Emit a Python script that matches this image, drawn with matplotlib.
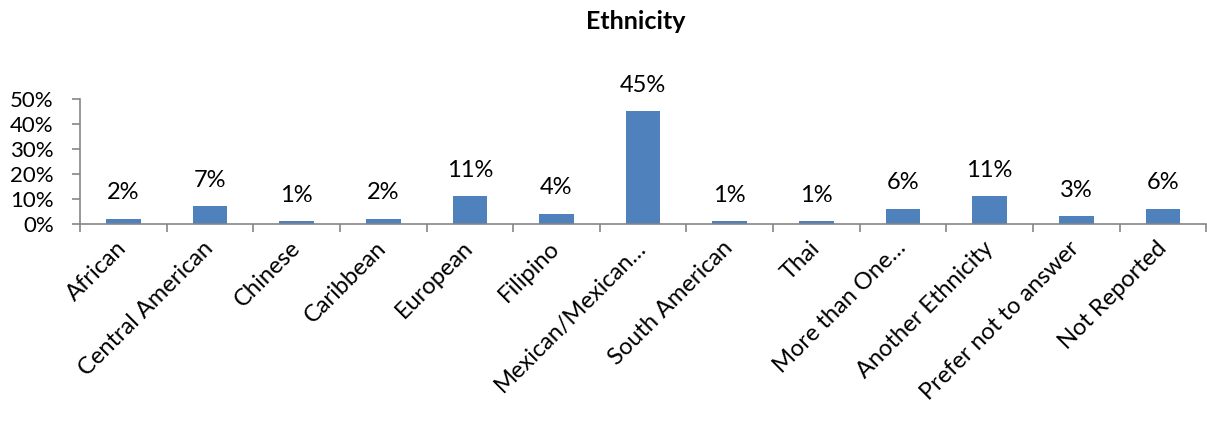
import matplotlib
matplotlib.use("Agg")
import matplotlib.pyplot as plt
import numpy as np
from matplotlib.ticker import PercentFormatter

plt.rcParams['font.family'] = ['Lato', 'DejaVu Sans']

categories = ["African", "Central American", "Chinese", "Caribbean", "European",
              "Filipino", "Mexican/Mexican…", "South American", "Thai",
              "More than One…", "Another Ethnicity", "Prefer not to answer",
              "Not Reported"]
values = [2, 7, 1, 2, 11, 4, 45, 1, 1, 6, 11, 3, 6]

bar_color = '#4F81BD'
axis_color = '#868686'

fig = plt.figure(figsize=(12.07, 4.21), dpi=100)
ax = fig.add_axes([0.0663, 0.468, 0.933, 0.297])

x = np.arange(len(categories))
ax.bar(x, values, width=0.4, color=bar_color)

# value labels above bars
for xi, v in zip(x, values):
    ax.annotate(f"{v}%", (xi, v), xytext=(0, 19), textcoords='offset points',
                ha='center', va='center', fontsize=17)

ax.set_xlim(-0.5, len(categories) - 0.5)
ax.set_ylim(0, 50)
ax.set_yticks(np.arange(0, 51, 10))
ax.yaxis.set_major_formatter(PercentFormatter(decimals=0))

ax.set_xticks(x)
ax.set_xticklabels(categories, rotation=45, ha='right', va='center',
                   rotation_mode='anchor', fontsize=17)
ax.set_xticks(np.arange(-0.5, len(categories)), minor=True)
ax.tick_params(axis='x', which='major', length=0, pad=15)
ax.tick_params(axis='x', which='minor', length=6, color=axis_color, width=1.2)
ax.tick_params(axis='y', length=6, color=axis_color, width=1.2, labelsize=16, pad=13)

for side in ['top', 'right']:
    ax.spines[side].set_visible(False)
for side in ['left', 'bottom']:
    ax.spines[side].set_color(axis_color)
    ax.spines[side].set_linewidth(1.2)

fig.text(0.527, 0.95, "Ethnicity", ha='center', va='center', fontsize=18, fontweight='bold')

fig.savefig("out.png", dpi=100)
